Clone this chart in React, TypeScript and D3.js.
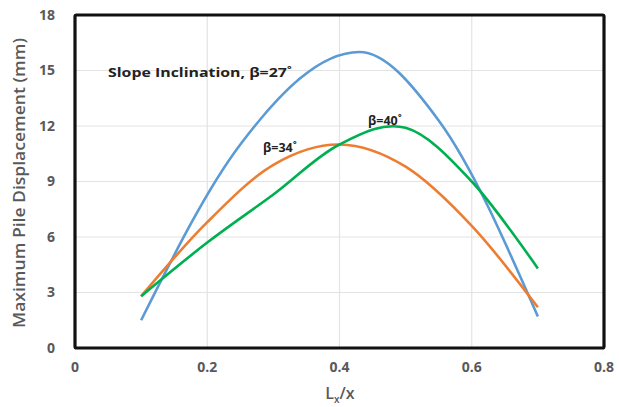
import React from "react";
import * as d3 from "d3";

const xBeta27 = [0.1, 0.25, 0.43, 0.55, 0.7];
const beta27 = [1.5, 11.0, 16.0, 12.3, 1.7];
const xBeta34 = [0.1, 0.2, 0.3, 0.4, 0.5, 0.6, 0.7];
const beta34 = [2.8, 6.8, 9.9, 11.0, 9.8, 6.6, 2.2];
const xBeta40 = [0.1, 0.2, 0.3, 0.4, 0.5, 0.6, 0.7];
const beta40 = [2.8, 5.7, 8.3, 11.0, 11.9, 9.0, 4.3];
const xTicks = [0, 0.2, 0.4, 0.6, 0.8];
const yTicks = [0, 3, 6, 9, 12, 15, 18];

const seriesList = [
  { name: "27", xs: xBeta27, values: beta27, color: "#5b9bd5", mono: true },
  { name: "34", xs: xBeta34, values: beta34, color: "#ed7d31", mono: false },
  { name: "40", xs: xBeta40, values: beta40, color: "#00b050", mono: false },
];

const W = 619;
const H = 407;
const left = 75;
const right = 604;
const top = 15;
const bottom = 348;

export default function App() {
  const x = d3.scaleLinear().domain([0, 0.8]).range([left, right]);
  const y = d3.scaleLinear().domain([0, 18]).range([bottom, top]);
  const makeLine = (xs: number[], mono: boolean) =>
    d3
      .line<number>()
      .x((_, i) => x(xs[i]))
      .y((d) => y(d))
      .curve(mono ? d3.curveMonotoneX : d3.curveCardinal.tension(0));
  const font = "'Open Sans', sans-serif";
  const tickColor = "#595959";
  return (
    <svg
      width={W}
      height={H}
      style={{ position: "absolute", left: 0, top: 0, background: "#fff" }}
    >
      {xTicks.slice(1, -1).map((t) => (
        <line key={"gx" + t} x1={x(t)} x2={x(t)} y1={top} y2={bottom} stroke="#e3e3e3" strokeWidth={1.2} />
      ))}
      {yTicks.slice(1, -1).map((t) => (
        <line key={"gy" + t} x1={left} x2={right} y1={y(t)} y2={y(t)} stroke="#e3e3e3" strokeWidth={1.2} />
      ))}
      {seriesList.map((s) => (
        <path key={s.name} d={makeLine(s.xs, s.mono)(s.values) || ""} fill="none" stroke={s.color} strokeWidth={2.6} />
      ))}
      <rect x={left} y={top} width={right - left} height={bottom - top} fill="none" stroke="#111" strokeWidth={3.2} rx={1.5} />
      {yTicks.map((t) => (
        <text key={"ty" + t} x={55} y={y(t)} dy="0.35em" textAnchor="end" fontFamily={font} fontWeight={700} fontSize={14} fill={tickColor}>
          {t}
        </text>
      ))}
      {xTicks.map((t) => (
        <text key={"tx" + t} x={x(t)} y={372} textAnchor="middle" fontFamily={font} fontWeight={700} fontSize={14} fill={tickColor}>
          {t}
        </text>
      ))}
      <text
        transform={`translate(25,183) rotate(-90)`}
        textAnchor="middle"
        fontFamily={font}
        fontWeight={600}
        fontSize={16}
        fill={tickColor}
        textLength={290}
        lengthAdjust="spacingAndGlyphs"
      >
        Maximum Pile Displacement (mm)
      </text>
      <text x={340} y={399} textAnchor="middle" fontFamily={font} fontWeight={600} fontSize={16} fill={tickColor}>
        L<tspan fontSize={10} dy={4}>x</tspan>
        <tspan dy={-4}>/x</tspan>
      </text>
      <text x={108} y={77} fontFamily={font} fontWeight={700} fontSize={12.5} fill="#222" textLength={184} lengthAdjust="spacingAndGlyphs">
        Slope Inclination, β=27˚
      </text>
      <text x={263} y={152} fontFamily={font} fontWeight={700} fontSize={12.5} fill="#222">
        β=34˚
      </text>
      <text x={368} y={125} fontFamily={font} fontWeight={700} fontSize={12.5} fill="#222">
        β=40˚
      </text>
    </svg>
  );
}
